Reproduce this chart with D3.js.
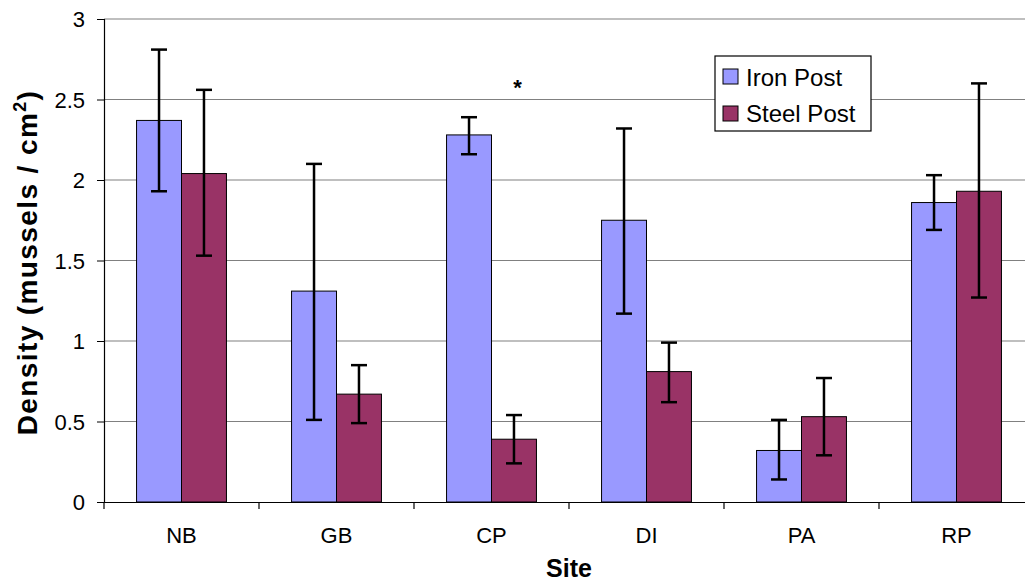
<!DOCTYPE html>
<html><head><meta charset="utf-8">
<script src="https://cdn.jsdelivr.net/npm/d3@7"></script>
<style>body{margin:0;background:#fff}svg{display:block}</style>
</head><body><svg id="c" width="1025" height="584" font-family="'Liberation Sans', Arial, sans-serif"></svg>
<script>
const sites = ["NB","GB","CP","DI","PA","RP"];
const seriesNames = ["Iron Post","Steel Post"];
const ironMean = [2.37,1.31,2.28,1.75,0.32,1.86];
const ironHi   = [2.81,2.10,2.39,2.32,0.51,2.03];
const ironLo   = [1.93,0.51,2.16,1.17,0.14,1.69];
const steelMean= [2.04,0.67,0.39,0.81,0.53,1.93];
const steelHi  = [2.56,0.85,0.54,0.99,0.77,2.60];
const steelLo  = [1.53,0.49,0.24,0.62,0.29,1.27];
const yTicks = [0,0.5,1,1.5,2,2.5,3];
const colors = ["#9999FF","#993366"];
const FONT = "'Liberation Sans', Arial, sans-serif";

const svg = d3.select("#c");
const L=104, R=1034, T=19, B=502;
const x = d3.scaleBand().domain(sites).range([L,R]);
const y = d3.scaleLinear().domain([0,3]).range([B,T]);
const g = svg.append("g");

// gridlines
g.selectAll(".grid").data(yTicks.filter(d=>d>0)).join("line")
 .attr("x1",L).attr("x2",R).attr("y1",d=>y(d)).attr("y2",d=>y(d))
 .attr("stroke","#808080").attr("stroke-width",1.2);

const data = sites.map((s,i)=>[
  {s,k:0,v:ironMean[i],hi:ironHi[i],lo:ironLo[i]},
  {s,k:1,v:steelMean[i],hi:steelHi[i],lo:steelLo[i]}]).flat();
const bw = x.bandwidth()*0.29;
const bx = d=> x(d.s)+x.bandwidth()/2 + (d.k===0?-bw:0);

g.selectAll(".bar").data(data).join("rect")
 .attr("x",bx).attr("width",bw).attr("y",d=>y(d.v)).attr("height",d=>B-y(d.v))
 .attr("fill",d=>colors[d.k]).attr("stroke","#000").attr("stroke-width",1);

// axes
const ya = d3.axisLeft(y).tickValues(yTicks).tickSize(7).tickFormat(d=>d);
const yg = g.append("g").attr("transform",`translate(${L},0)`).call(ya).attr("font-family",FONT);
yg.select(".domain").attr("stroke","#000").attr("stroke-width",1.2);
yg.selectAll("line").attr("stroke","#000");
yg.selectAll("text").attr("font-size",22).attr("fill","#000").attr("x",-19).attr("dy","0.35em");

const xa = d3.axisBottom(x).tickSize(0).tickPadding(0);
const xg = g.append("g").attr("transform",`translate(0,${B})`).call(xa).attr("font-family",FONT);
xg.select(".domain").attr("stroke","#000").attr("stroke-width",1.2);
xg.selectAll("text").attr("font-size",22).attr("fill","#000").attr("dy",0).attr("y",41);
// category separator ticks
g.selectAll(".xt").data(sites.concat(["_end"])).join("line")
 .attr("x1",(d,i)=>L+i*x.step()).attr("x2",(d,i)=>L+i*x.step())
 .attr("y1",B).attr("y2",B+7).attr("stroke","#000").attr("stroke-width",1.2);

// error bars
const eb = g.selectAll(".eb").data(data).join("g")
 .attr("transform",d=>`translate(${bx(d)+bw/2},0)`);
eb.append("line").attr("y1",d=>y(d.hi)).attr("y2",d=>y(d.lo)).attr("stroke","#000").attr("stroke-width",2.5);
eb.append("line").attr("x1",-8).attr("x2",8).attr("y1",d=>y(d.hi)).attr("y2",d=>y(d.hi)).attr("stroke","#000").attr("stroke-width",2.5);
eb.append("line").attr("x1",-8).attr("x2",8).attr("y1",d=>y(d.lo)).attr("y2",d=>y(d.lo)).attr("stroke","#000").attr("stroke-width",2.5);

// asterisk
svg.append("text").attr("x",x("CP")+x.bandwidth()/2+26).attr("y",95).attr("text-anchor","middle")
 .attr("font-size",22).attr("font-weight","bold").text("*");

// axis titles
svg.append("text").attr("x",569).attr("y",577).attr("text-anchor","middle")
 .attr("font-size",25).attr("font-weight","bold").text("Site");
const yt = svg.append("text").attr("transform",`translate(37,${(T+B)/2+2}) rotate(-90)`)
 .attr("text-anchor","middle").attr("font-size",28).attr("font-weight","bold").attr("letter-spacing",1.4);
yt.append("tspan").text("Density (mussels / cm");
yt.append("tspan").attr("font-size",18).attr("dy",-11).text("2");
yt.append("tspan").attr("dy",11).text(")");

// legend
const lg = svg.append("g").attr("transform","translate(715,56)");
lg.append("rect").attr("width",156).attr("height",75).attr("fill","#fff").attr("stroke","#000").attr("stroke-width",1.2);
seriesNames.forEach((n,i)=>{
  lg.append("rect").attr("x",8).attr("y",13+i*37).attr("width",15).attr("height",15)
    .attr("fill",colors[i]).attr("stroke","#000");
  lg.append("text").attr("x",31).attr("y",30+i*36).attr("font-size",24).text(n);
});
</script></body></html>
